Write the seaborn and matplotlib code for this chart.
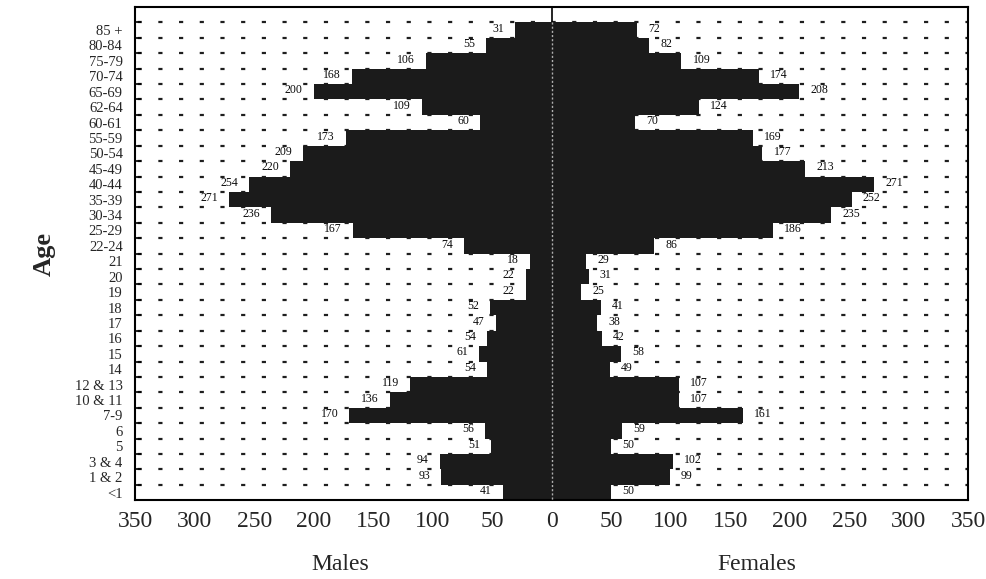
import matplotlib
matplotlib.use("Agg")
import matplotlib.pyplot as plt
from matplotlib.ticker import FixedLocator
import seaborn as sns
import pandas as pd
import numpy as np

age_groups = ["85 +", "80-84", "75-79", "70-74", "65-69", "62-64", "60-61",
              "55-59", "50-54", "45-49", "40-44", "35-39", "30-34", "25-29",
              "22-24", "21", "20", "19", "18", "17", "16", "15", "14",
              "12 & 13", "10 & 11", "7-9", "6", "5", "3 & 4", "1 & 2", "<1"]
males = [31, 55, 106, 168, 200, 109, 60, 173, 209, 220, 254, 271, 236, 167,
         74, 18, 22, 22, 52, 47, 54, 61, 54, 119, 136, 170, 56, 51, 94, 93, 41]
females = [72, 82, 109, 174, 208, 124, 70, 169, 177, 213, 271, 252, 235, 186,
           86, 29, 31, 25, 41, 38, 42, 58, 49, 107, 107, 161, 59, 50, 102, 99, 50]
x_ticks = [-350, -300, -250, -200, -150, -100, -50, 0, 50, 100, 150, 200, 250, 300, 350]

sns.set_theme(style="white")
plt.rcParams["font.family"] = ["Liberation Serif", "DejaVu Serif"]
plt.rcParams["lines.scale_dashes"] = False

df = pd.DataFrame({"age": age_groups, "males": males, "females": females})
df["males_neg"] = -df["males"]

fig = plt.figure(figsize=(9.87, 5.79), dpi=100)
ax = fig.add_axes([0.137, 0.136, 0.844, 0.852])

bar_color = "#1b1b1b"
n = len(age_groups)

# dashed guide lines at row boundaries (behind bars)
for b in np.arange(-0.5, n - 1, 1.0):
    ax.axhline(b, color="#1e1e1e", lw=1.6, linestyle=(13.0, (3.0, 11.9)), zorder=0)

ax.axvline(0, color="black", lw=1.2, zorder=0.5)

sns.barplot(data=df, x="males_neg", y="age", orient="h", color=bar_color,
            width=1.0, saturation=1, linewidth=0, ax=ax, zorder=2)
sns.barplot(data=df, x="females", y="age", orient="h", color=bar_color,
            width=1.0, saturation=1, linewidth=0, ax=ax, zorder=2)

# light dotted line through the bars at zero
ax.vlines(0, -0.5, n - 0.5, colors="#b0b0b0", lw=1.0, linestyles=(0, (1.5, 1.5)), zorder=3)

for i, (m, f) in enumerate(zip(males, females)):
    ax.annotate(str(m), xy=(-m, i), xytext=(-8, 1), textcoords="offset points",
                ha="right", va="center", fontsize=8.5, color="#0a0a0a")
    ax.annotate(str(f), xy=(f, i), xytext=(8, 1), textcoords="offset points",
                ha="left", va="center", fontsize=8.5, color="#0a0a0a")

ax.set_xlim(-350, 350)
ax.set_ylim(n - 0.5, -1.5)
ax.set_xticks(x_ticks)
ax.set_xticklabels([str(abs(t)) for t in x_ticks], fontsize=17)
ax.tick_params(axis="x", length=0, pad=8)
ax.tick_params(axis="y", which="major", length=0, pad=9, labelsize=10.5)
ax.yaxis.set_minor_locator(FixedLocator(np.arange(-0.5, n, 1.0)))
ax.tick_params(axis="y", which="minor", direction="in", length=4, width=1.2,
               color="black", left=True)
ax.set_xlabel("")
ax.set_ylabel("Age", fontsize=19, fontweight="bold", labelpad=14)

for s in ax.spines.values():
    s.set_visible(True)
    s.set_color("black")
    s.set_linewidth(1.5)

ax.text(-178, -0.13, "Males", transform=ax.get_xaxis_transform(),
        ha="center", va="center", fontsize=17)
ax.text(172, -0.13, "Females", transform=ax.get_xaxis_transform(),
        ha="center", va="center", fontsize=17)

fig.savefig("out.png", dpi=100, facecolor="white")
